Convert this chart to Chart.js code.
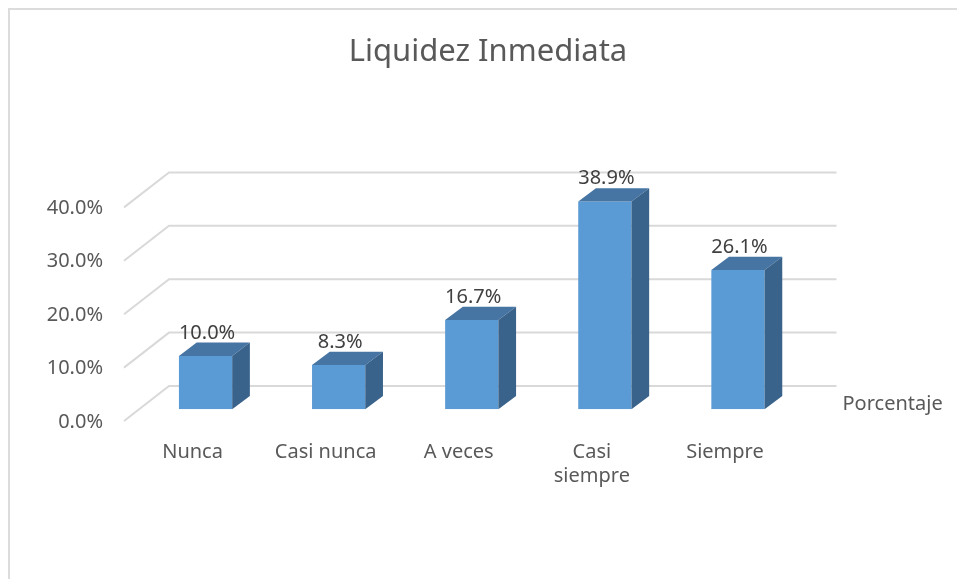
<!DOCTYPE html>
<html>
<head>
<meta charset="utf-8">
<title>Liquidez Inmediata</title>
<script src="https://cdn.jsdelivr.net/npm/chart.js@4.4.1/dist/chart.umd.min.js"></script>
<style>
  html, body { margin: 0; padding: 0; background: #fff; overflow: hidden; }
  canvas { display: block; }
</style>
</head>
<body>
<canvas id="liquidezChart" width="957" height="579"></canvas>
<script>
// Data
const chartTitle = 'Liquidez Inmediata';
const seriesName = 'Porcentaje';
const categories = ['Nunca', 'Casi nunca', 'A veces', ['Casi', 'siempre'], 'Siempre'];
const porcentaje = [10.0, 8.3, 16.7, 38.9, 26.1];
const yTicks = [0, 10, 20, 30, 40];

// Look
const FONT = '"Noto Sans", "Open Sans", sans-serif';
const frontColor = '#5b9bd5';
const topColor = '#4674a3';
const sideColor = '#3a638b';
const gridColor = '#d9d9d9';
const textColor = '#595959';
const labelColor = '#404040';

// oblique offsets for the fake 3D
const barDepth = { dx: 17.7, dy: -13.3 };
const wallBack = { dx: 30, dy: -23.3 };
const floorFront = { dx: -15, dy: 11.7 };

const pct = v => Number(v).toFixed(1) + '%';

const threeD = {
    id: 'threeD',
    beforeDraw(chart) {
        const ctx = chart.ctx;
        ctx.save();
        ctx.strokeStyle = '#dcdcdc';
        ctx.lineWidth = 2;
        ctx.strokeRect(9, 9, chart.width, chart.height);
        ctx.restore();
    },
    beforeDatasetsDraw(chart) {
        const { ctx, chartArea, scales: { y } } = chart;
        ctx.save();
        ctx.strokeStyle = gridColor;
        ctx.lineWidth = 2;
        yTicks.forEach(v => {
            const py = y.getPixelForValue(v);
            ctx.beginPath();
            ctx.moveTo(chartArea.left + floorFront.dx, py + floorFront.dy);
            ctx.lineTo(chartArea.left + wallBack.dx, py + wallBack.dy);
            ctx.lineTo(chartArea.right + wallBack.dx + 2, py + wallBack.dy);
            ctx.stroke();
        });
        ctx.restore();
    },
    afterDatasetsDraw(chart) {
        const { ctx, chartArea, scales: { y } } = chart;
        const meta = chart.getDatasetMeta(0);
        ctx.save();
        meta.data.forEach((bar, i) => {
            const { x, y: top, base, width } = bar.getProps(['x', 'y', 'base', 'width'], true);
            const l = x - width / 2, r = x + width / 2;

            // top face
            ctx.fillStyle = topColor;
            ctx.beginPath();
            ctx.moveTo(l, top);
            ctx.lineTo(l + barDepth.dx, top + barDepth.dy);
            ctx.lineTo(r + barDepth.dx, top + barDepth.dy);
            ctx.lineTo(r, top);
            ctx.closePath();
            ctx.fill();

            // side face
            ctx.fillStyle = sideColor;
            ctx.beginPath();
            ctx.moveTo(r, top);
            ctx.lineTo(r + barDepth.dx, top + barDepth.dy);
            ctx.lineTo(r + barDepth.dx, base + barDepth.dy);
            ctx.lineTo(r, base);
            ctx.closePath();
            ctx.fill();

            // value label
            ctx.fillStyle = labelColor;
            ctx.font = '20px ' + FONT;
            ctx.textAlign = 'center';
            ctx.textBaseline = 'alphabetic';
            ctx.fillText(pct(porcentaje[i]), x + 1.5, top + barDepth.dy - 4);
        });

        // series (depth axis) name
        ctx.fillStyle = textColor;
        ctx.font = '20px ' + FONT;
        ctx.textAlign = 'left';
        ctx.textBaseline = 'middle';
        ctx.fillText(seriesName, chartArea.right + 38, y.getPixelForValue(0) - 5);
        ctx.restore();
    }
};

new Chart(document.getElementById('liquidezChart'), {
    type: 'bar',
    data: {
        labels: categories,
        datasets: [{
            label: seriesName,
            data: porcentaje,
            backgroundColor: frontColor,
            borderWidth: 0,
            barPercentage: 0.4,
            categoryPercentage: 1
        }]
    },
    options: {
        responsive: false,
        animation: false,
        devicePixelRatio: 1,
        layout: { padding: { left: 19, right: 0, top: 0, bottom: 0 } },
        plugins: {
            legend: { display: false },
            tooltip: { enabled: false },
            title: {
                display: true,
                text: chartTitle,
                color: textColor,
                font: { family: FONT, size: 31, weight: 'normal' },
                padding: { top: 33.4, bottom: 125.1 }
            }
        },
        scales: {
            x: {
                grid: { display: false, drawTicks: false },
                border: { display: false },
                ticks: {
                    color: textColor,
                    font: { family: FONT, size: 20 },
                    padding: 31,
                    labelOffset: -13,
                    maxRotation: 0,
                    autoSkip: false
                },
                afterFit: s => { s.height = 169.7; }
            },
            y: {
                min: 0,
                max: 40,
                grid: { display: false, drawTicks: false },
                border: { display: false },
                ticks: {
                    stepSize: 10,
                    color: textColor,
                    font: { family: FONT, size: 20 },
                    padding: 36,
                    labelOffset: 12.5,
                    callback: v => pct(v)
                },
                afterFit: s => { s.width = 120; }
            },
            side: {
                position: 'right',
                grid: { display: false, drawTicks: false },
                border: { display: false },
                ticks: { display: false },
                afterFit: s => { s.width = 152.5; }
            }
        }
    },
    plugins: [threeD]
});
</script>
</body>
</html>
